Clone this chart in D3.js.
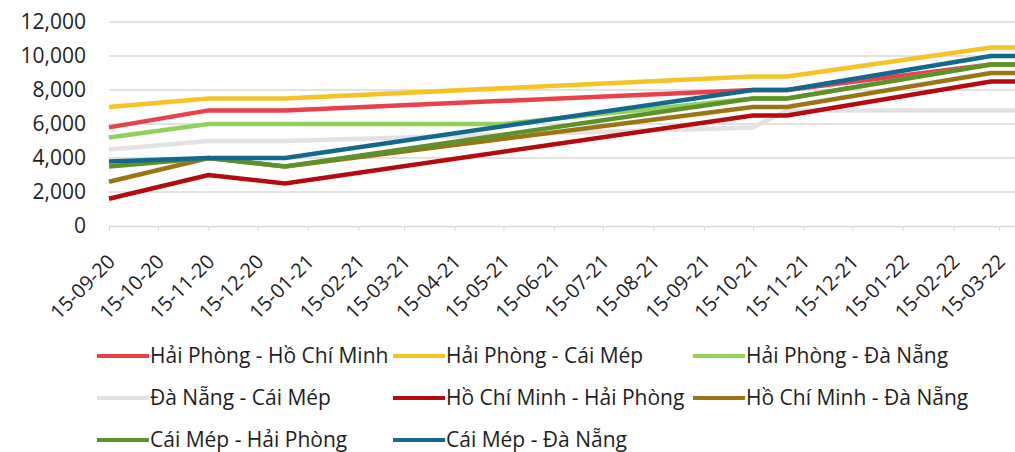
<!DOCTYPE html>
<html>
<head>
<meta charset="utf-8">
<script src="https://cdn.jsdelivr.net/npm/d3@7"></script>
<style>
  body { margin: 0; background: #fff; }
  text { font-family: "Open Sans", sans-serif; fill: #1e1e1e; }
</style>
</head>
<body>
<div id="place"></div>
<script>
// tick labels of the month axis
const tickLabels = ["15-09-20", "15-10-20", "15-11-20", "15-12-20", "15-01-21", "15-02-21", "15-03-21",
  "15-04-21", "15-05-21", "15-06-21", "15-07-21", "15-08-21", "15-09-21", "15-10-21", "15-11-21",
  "15-12-21", "15-01-22", "15-02-22", "15-03-22"];

// dates of the data points (dd-mm-yy)
const dates = ["15-09-20", "15-11-20", "01-01-21", "15-05-21", "15-10-21", "05-11-21", "10-03-22", "25-03-22"];

// values per route (null = no point on that date)
const hpHcm  = [5800, 6800, 6800, null, 8000, 8000, 9500, 9500];
const hpCm   = [7000, 7500, 7500, null, 8800, 8800, 10500, 10500];
const hpDn   = [5200, 6000, 6000, 6000, 7500, 7500, 9500, 9500];
const dnCm   = [4500, 5000, 5000, null, 5800, 6800, 6800, 6800];
const hcmHp  = [1600, 3000, 2500, null, 6500, 6500, 8500, 8500];
const hcmDn  = [2600, 4000, 3500, null, 7000, 7000, 9000, 9000];
const cmHp   = [3500, 4000, 3500, null, 7500, 7500, 9500, 9500];
const cmDn   = [3800, 4000, 4000, null, 8000, 8000, 10000, 10000];

const seriesNames = ["Hải Phòng - Hồ Chí Minh", "Hải Phòng - Cái Mép", "Hải Phòng - Đà Nẵng",
  "Đà Nẵng - Cái Mép", "Hồ Chí Minh - Hải Phòng", "Hồ Chí Minh - Đà Nẵng",
  "Cái Mép - Hải Phòng", "Cái Mép - Đà Nẵng"];
const seriesValues = [hpHcm, hpCm, hpDn, dnCm, hcmHp, hcmDn, cmHp, cmDn];
const colors = ["#e9414a", "#f6c224", "#92d05a", "#e2e2e2", "#b30b10", "#9a7514", "#5c912b", "#12698c"];

const yTicks = [0, 2000, 4000, 6000, 8000, 10000, 12000];

const parse = d3.utcParse("%d-%m-%y");

const W = 1015, H = 452;
const svg = d3.select("#place").append("svg").attr("width", W).attr("height", H);

const x = d3.scaleUtc()
  .domain([parse(tickLabels[0]), parse(tickLabels[tickLabels.length - 1])])
  .range([109, 999]);
const y = d3.scaleLinear().domain([0, 12000]).range([226, 22]);

// grid
svg.append("g").selectAll("line")
  .data(yTicks.filter(d => d > 0)).enter()
  .append("line")
  .attr("x1", 109).attr("x2", W)
  .attr("y1", d => y(d)).attr("y2", d => y(d))
  .attr("stroke", "#d9d9d9").attr("stroke-width", 1.3);

// y labels
svg.append("g").selectAll("text")
  .data(yTicks).enter()
  .append("text")
  .attr("x", 86).attr("y", d => y(d))
  .attr("dy", "0.35em")
  .attr("text-anchor", "end")
  .style("font-size", "21px")
  .text(d => d3.format(",")(d));

// x axis
const xAxis = svg.append("g")
  .attr("transform", "translate(0," + y(0) + ")")
  .call(d3.axisBottom(x)
    .tickValues(tickLabels.map(parse))
    .tickFormat(d3.utcFormat("%d-%m-%y"))
    .tickSize(5)
    .tickSizeOuter(0));
xAxis.select(".domain").attr("d", "M109,0.5H" + W).attr("stroke", "#d9d9d9").attr("stroke-width", 1.3);
xAxis.selectAll(".tick line").attr("stroke", "#d9d9d9");
xAxis.selectAll(".tick text")
  .attr("fill", "#1e1e1e")
  .style("font-size", "20px")
  .attr("text-anchor", "end")
  .attr("transform", "translate(2,32) rotate(-45)")
  .attr("dy", "0.35em")
  .attr("y", 0);

// lines
const line = d3.line()
  .x(d => x(d.date))
  .y(d => y(d.v));

seriesValues.forEach((vals, i) => {
  const pts = dates.map((d, j) => ({ date: parse(d), v: vals[j] })).filter(p => p.v != null);
  svg.append("path")
    .datum(pts)
    .attr("d", line)
    .attr("fill", "none")
    .attr("stroke", colors[i])
    .attr("stroke-width", 4.5);
});

// legend
const legCols = [97, 393, 693];
const legRows = [356, 398, 440];
seriesNames.forEach((name, i) => {
  const lx = legCols[i % 3], ly = legRows[Math.floor(i / 3)];
  const g = svg.append("g").attr("transform", "translate(" + lx + "," + ly + ")");
  g.append("line").attr("x1", 0).attr("x2", 52).attr("y1", 0).attr("y2", 0)
    .attr("stroke", colors[i]).attr("stroke-width", 4);
  g.append("text").attr("x", 53).attr("y", 0).attr("dy", "0.35em")
    .style("font-size", "21px").text(name);
});
</script>
</body>
</html>
